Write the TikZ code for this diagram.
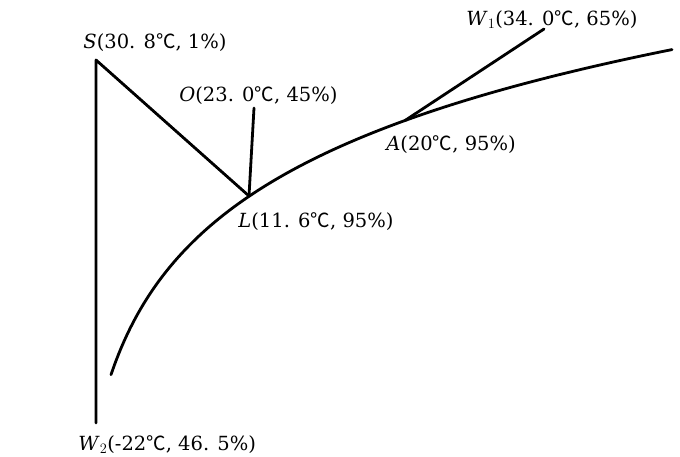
\documentclass[tikz,border=0pt]{standalone}
\usepackage{fontspec}
\setmainfont{DejaVu Serif}
\newfontfamily\cjk{Noto Sans CJK SC}
\newcommand{\dC}{{\cjk ℃}}
\begin{document}
\begin{tikzpicture}[x=1pt,y=-1pt,
  line width=2.8pt, line cap=round, line join=round,
  lbl/.style={anchor=base west, inner sep=0pt, font=\fontsize{19.5}{24}\selectfont}]
\useasboundingbox[fill=white] (0,0) rectangle (680,456);
% points
\coordinate (S) at (96,60);
\coordinate (W2) at (96,423);
\coordinate (L) at (249,196);
\coordinate (O) at (254,108);
\coordinate (A) at (405,120.5);
\coordinate (W1) at (544,29);
% lines
\draw (W2) -- (S) -- (L);
\draw (O) -- (L);
\draw (W1) -- (A);
\draw plot[domain=111:672, samples=120, smooth] (\x, {824-121*ln(\x-70)});
% labels
\node[lbl] (tS) at (82,48) {\textit{S}(30. 8\dC, 1\%)};
\node[lbl] (tO) at (178,101) {\textit{O}(23. 0\dC, 45\%)};
\node[lbl] (tW1) at (465,25) {\textit{W}$_1$(34. 0\dC, 65\%)};
\node[lbl] (tA) at (385,150) {\textit{A}(20\dC, 95\%)};
\node[lbl] (tL) at (237,227) {\textit{L}(11. 6\dC, 95\%)};
\node[lbl] (tW2) at (77,450) {\textit{W}$_2$(-22\dC, 46. 5\%)};
\end{tikzpicture}
\end{document}
